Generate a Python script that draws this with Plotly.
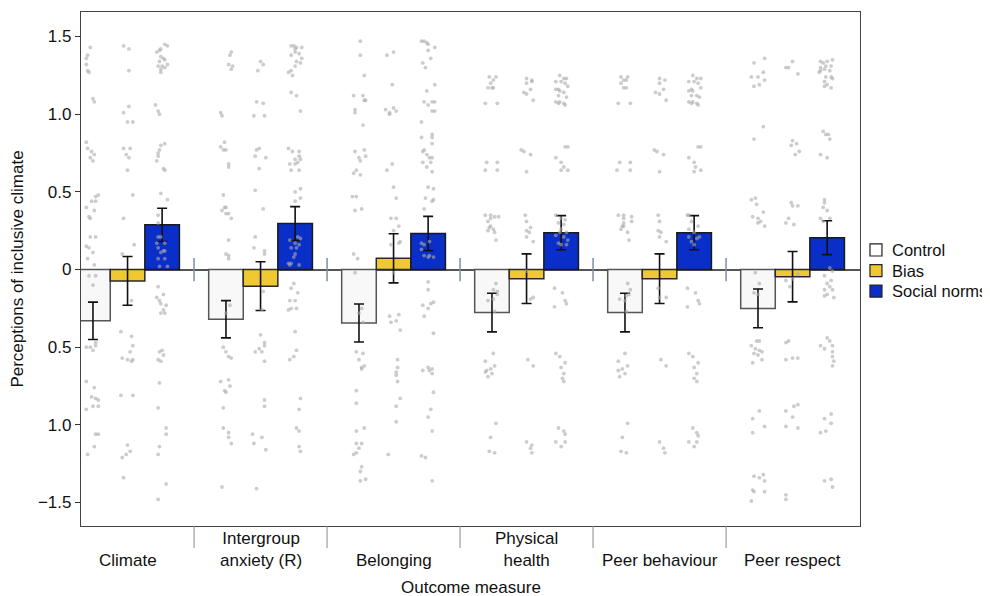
import plotly.graph_objects as go

categories = ["Climate", "Intergroup<br>anxiety (R)", "Belonging", "Physical<br>health",
              "Peer behaviour", "Peer respect"]
conditions = ["Control", "Bias", "Social norms"]

control_mean = [-0.33, -0.32, -0.344, -0.277, -0.277, -0.25]
control_ci = [0.12, 0.12, 0.122, 0.124, 0.124, 0.125]
bias_mean = [-0.073, -0.107, 0.072, -0.059, -0.059, -0.046]
bias_ci = [0.157, 0.157, 0.158, 0.16, 0.16, 0.162]
social_mean = [0.288, 0.296, 0.232, 0.237, 0.237, 0.205]
social_ci = [0.107, 0.109, 0.11, 0.11, 0.11, 0.109]

y_tickvals = [-1.5, -1.0, -0.5, 0, 0.5, 1.0, 1.5]
y_ticktext = ["\u22121.5", "1.0", "0.5", "0", "0.5", "1.0", "1.5"]

# individual participant scores: (jitter within bar, value), per category
control_dots = [
    [(-0.02,1.43),(-0.04,1.38),(-0.05,1.36),(-0.05,1.32),(-0.04,1.28),(-0.03,1.27),(0,1.10),(0.01,1.08),(-0.05,0.82),(-0.04,0.78),(-0.01,0.76),(0.01,0.74),(-0.02,0.72),(0,0.70),(0.02,0.47),(0.04,0.48),(-0.01,0.44),(0.02,0.44),(-0.05,0.40),(0.01,0.38),(-0.03,0.34),(-0.02,0.33),(-0.02,0.21),(0.02,0.21),(-0.05,0.15),(-0.03,0.14),(0,0.11),(-0.04,0.07),(0.01,0.03),(-0.03,-0.04),(0.02,-0.04),(0,-0.10),(0.02,-0.47),(-0.05,-0.50),(-0.02,-0.50),(0.02,-0.49),(0,-0.52),(-0.05,-0.72),(0.01,-0.76),(-0.01,-0.82),(0.02,-0.83),(0.04,-0.84),(0,-0.88),(0.04,-0.88),(-0.05,-0.90),(0.02,-1.06),(0.04,-1.06),(0.01,-1.14),(-0.04,-1.19)],
    [(0.04,1.40),(0.03,1.38),(0.02,1.32),(0.05,1.31),(0.04,1.29),(-0.04,1.01),(-0.03,0.99),(-0.01,0.82),(-0.04,0.79),(-0.02,0.77),(0,0.77),(0.02,0.68),(0.02,0.66),(-0.02,0.48),(-0.01,0.40),(-0.03,0.38),(0,0.40),(0,0.36),(0.02,0.36),(0.04,0.33),(0.02,0.19),(0,0.10),(0.02,0.09),(0.02,0.07),(0.03,-0.23),(0,-0.28),(-0.02,-0.50),(0,-0.53),(0.02,-0.56),(0.04,-0.57),(-0.04,-0.72),(0.02,-0.71),(-0.01,-0.78),(0.03,-0.75),(0,-0.79),(-0.02,-0.89),(-0.02,-1.02),(0.02,-1.05),(0.02,-1.08),(0.04,-1.12),(-0.03,-1.40)],
    [(0.01,1.47),(0.01,1.38),(0.04,1.25),(-0.04,1.12),(0.03,1.12),(0.04,1.09),(0.05,1.09),(-0.03,1.03),(-0.03,1.01),(0.03,0.93),(-0.03,0.76),(0.04,0.77),(0,0.72),(0.01,0.70),(0.05,0.73),(-0.02,0.64),(-0.04,0.62),(0.01,0.61),(-0.05,0.47),(-0.02,0.47),(-0.03,0.38),(0.02,0.39),(-0.04,0.10),(-0.01,0.07),(-0.03,-0.02),(0.02,-0.25),(0,-0.28),(0.03,-0.34),(-0.02,-0.53),(0.03,-0.54),(0,-0.58),(0.02,-0.63),(0.04,-0.62),(0.02,-0.64),(-0.02,-0.78),(-0.02,-0.86),(-0.02,-1.04),(0.04,-1.02),(-0.02,-1.12),(0.02,-1.12),(0,-1.15),(-0.02,-1.18),(-0.04,-1.19),(0.02,-1.27),(0.01,-1.30),(0.01,-1.36),(0.05,-1.35)],
    [(-0.02,1.24),(0.03,1.24),(0.01,1.22),(-0.01,1.20),(0.01,1.17),(0,1.17),(-0.03,1.17),(-0.05,1.07),(0.04,1.07),(-0.04,0.69),(0.04,0.69),(-0.05,0.64),(0.04,0.64),(-0.05,0.35),(-0.01,0.35),(0.02,0.34),(-0.01,0.33),(0.05,0.34),(-0.03,0.31),(-0.01,0.28),(0.01,0.26),(-0.02,0.27),(-0.03,0.25),(0.02,0.24),(0.03,0.19),(0.03,-0.09),(0.01,-0.13),(0.04,-0.14),(0.04,-0.16),(0.01,-0.19),(-0.03,-0.20),(0.02,-0.27),(0.01,-0.54),(-0.05,-0.59),(-0.01,-0.64),(0.02,-0.62),(-0.04,-0.65),(-0.05,-0.66),(0,-0.67),(-0.03,-0.69),(0.03,-0.99),(-0.01,-1.08),(-0.02,-1.17),(0.02,-1.18)],
    [(-0.03,1.24),(0.02,1.24),(-0.01,1.22),(0.01,1.22),(-0.03,1.20),(-0.01,1.17),(0.01,1.17),(-0.05,1.07),(0.04,1.07),(-0.04,0.69),(0.04,0.69),(-0.06,0.64),(0.04,0.64),(-0.05,0.35),(-0.01,0.35),(0.05,0.34),(-0.01,0.33),(-0.01,0.30),(0.05,0.31),(-0.02,0.28),(-0.03,0.26),(0.02,0.24),(-0.01,0.28),(0.03,0.19),(0.02,-0.09),(0.04,-0.13),(0.03,-0.16),(0.01,-0.17),(-0.04,-0.19),(0,-0.20),(0.01,-0.27),(0,-0.54),(-0.05,-0.59),(0.02,-0.62),(-0.02,-0.64),(-0.05,-0.65),(0,-0.67),(-0.04,-0.69),(0.02,-0.99),(-0.02,-1.08),(-0.03,-1.17),(0.01,-1.18)],
    [(-0.03,1.33),(0.05,1.36),(-0.05,1.24),(0,1.24),(0.04,1.27),(-0.03,1.18),(0.01,1.19),(0.05,1.22),(0.04,0.92),(-0.03,0.84),(-0.05,0.45),(-0.02,0.46),(-0.01,0.42),(0.04,0.37),(-0.04,0.34),(0,0.33),(0,0.30),(0.02,0.31),(0.05,0.28),(-0.02,-0.02),(0.01,-0.09),(0,-0.16),(-0.03,-0.15),(-0.01,-0.46),(0.01,-0.46),(-0.05,-0.49),(-0.02,-0.51),(0.01,-0.52),(-0.03,-0.54),(0,-0.55),(0.03,-0.53),(0.03,-0.58),(-0.04,-0.60),(0.01,-0.91),(-0.04,-0.96),(0.05,-1.01),(-0.04,-1.05),(-0.03,-1.33),(0.01,-1.34),(0.04,-1.32),(0.05,-1.36),(-0.04,-1.42),(-0.03,-1.43),(0.05,-1.43),(-0.05,-1.49)],
]
bias_dots = [
    [(-0.03,1.44),(0.01,1.42),(0.01,1.28),(0.01,1.05),(-0.03,1.01),(0,0.95),(0.04,0.95),(-0.03,0.78),(0.02,0.78),(-0.01,0.74),(0.01,0.72),(0,0.64),(0.04,0.48),(-0.03,0.33),(0.05,0.16),(-0.04,0.10),(0.03,-0.20),(-0.05,-0.40),(0.03,-0.43),(0.04,-0.49),(0.02,-0.53),(-0.04,-0.57),(0,-0.58),(0.04,-0.58),(0.03,-0.59),(-0.05,-0.81),(0.04,-0.81),(0,-1.13),(0.02,-1.17),(-0.01,-1.19),(-0.04,-1.21),(-0.03,-1.34)],
    [(0,1.34),(0.02,1.32),(-0.02,1.28),(-0.03,1.08),(0.02,1.07),(-0.05,0.99),(0.03,0.99),(-0.01,0.78),(-0.03,0.77),(-0.04,0.73),(0.04,0.72),(-0.01,0.65),(-0.04,0.51),(0.02,0.39),(-0.04,0.21),(-0.05,0.14),(0.03,0.12),(0.03,0.10),(0.02,-0.14),(0.01,-0.26),(0,-0.42),(0.03,-0.47),(0.03,-0.49),(-0.01,-0.51),(-0.04,-0.53),(0.01,-0.53),(0.03,-0.59),(0.03,-0.84),(0.03,-0.88),(-0.06,-1.06),(0.01,-1.08),(-0.05,-1.12),(0.04,-1.16),(-0.03,-1.41)],
    [(-0.05,1.38),(0,1.40),(-0.01,1.19),(-0.06,1.03),(-0.03,1.01),(0,1.04),(0.02,1.02),(-0.03,1.00),(-0.01,0.68),(-0.05,0.64),(0,0.53),(0.02,0.46),(-0.02,0.33),(0.02,0.33),(0.04,0.28),(0,0.25),(0.04,0.17),(0.05,0.18),(-0.02,0.16),(0,-0.02),(-0.03,-0.30),(0.04,-0.29),(-0.02,-0.34),(0.02,-0.33),(0.05,-0.39),(0.03,-0.58),(0.03,-0.63),(0.02,-0.66),(0.02,-0.68),(0.03,-0.72),(0.05,-0.83),(0.02,-0.88),(0.02,-0.98),(-0.04,-1.19)],
    [(0,1.23),(0.04,1.22),(0.04,1.21),(0,1.20),(0.03,1.16),(-0.02,1.14),(0,1.13),(0.05,1.09),(-0.04,0.77),(-0.02,0.76),(0.03,0.74),(0,0.63),(-0.01,0.35),(0,0.31),(0,0.25),(0.02,0.24),(0.03,0.27),(0,0.21),(0.05,0.18),(0,-0.01),(0.05,-0.18),(0.03,-0.19),(0.01,-0.58),(0.05,-0.62),(0,-1.11),(0.03,-1.15),(0.04,-1.18),(0.04,-1.13)],
    [(0,1.23),(0.04,1.22),(0,1.20),(0.03,1.16),(-0.03,1.14),(0,1.13),(0.05,1.09),(-0.04,0.77),(-0.02,0.76),(0.03,0.74),(0,0.63),(-0.01,0.35),(0,0.31),(-0.01,0.25),(0.01,0.24),(0,0.21),(0.05,0.18),(-0.01,-0.12),(0,-0.18),(0.05,-0.18),(0.01,-0.58),(0.05,-0.62),(0,-1.11),(0.03,-1.15),(0.04,-1.18)],
    [(0,1.34),(-0.05,1.30),(-0.03,1.30),(0.04,1.26),(0,0.83),(0.03,0.81),(-0.01,0.80),(0.05,0.76),(0.02,0.74),(-0.01,0.43),(0,0.41),(0.04,0.41),(-0.03,0.33),(-0.05,0.30),(0.01,0.29),(0.04,-0.03),(0,-0.06),(-0.05,-0.07),(-0.02,-0.11),(-0.03,-0.46),(-0.05,-0.47),(0,-0.57),(0.04,-0.57),(-0.05,-0.58),(0.01,-0.88),(0.04,-0.87),(-0.05,-0.91),(0,-0.95),(-0.05,-1.01),(0.04,-1.02),(-0.05,-1.45),(-0.05,-1.48)],
]
social_dots = [
    [(0.02,1.45),(0.04,1.44),(-0.01,1.42),(-0.02,1.41),(-0.04,1.40),(-0.01,1.37),(0.01,1.36),(0.02,1.35),(-0.02,1.34),(0.04,1.32),(0,1.31),(-0.03,1.31),(0.02,1.30),(-0.01,1.29),(-0.01,1.27),(-0.05,1.06),(-0.03,1.02),(-0.02,1.00),(0.02,0.81),(-0.01,0.80),(-0.02,0.77),(-0.03,0.75),(-0.03,0.73),(-0.04,0.70),(0.01,0.65),(0.02,0.64),(-0.01,0.49),(0.04,0.45),(-0.03,0.35),(-0.03,0.30),(-0.03,0.21),(-0.01,0.21),(-0.04,0.17),(0.02,0.17),(-0.03,0.14),(0.01,0.12),(0.02,0.12),(-0.01,0.11),(-0.03,0.07),(0.02,0.07),(-0.02,0.02),(0.04,0.02),(-0.03,-0.11),(0.01,-0.16),(-0.04,-0.18),(-0.02,-0.20),(-0.01,-0.22),(0.03,-0.23),(0.01,-0.26),(0.02,-0.28),(-0.01,-0.28),(0,-0.52),(-0.02,-0.53),(0.01,-0.55),(-0.03,-0.58),(-0.01,-0.59),(-0.02,-0.73),(-0.03,-0.89),(0.03,-1.02),(0.03,-1.06),(-0.02,-1.14),(-0.03,-1.19),(0.03,-1.38),(-0.03,-1.48)],
    [(-0.03,1.44),(-0.01,1.44),(0.01,1.43),(0.05,1.43),(0,1.42),(0,1.40),(0.03,1.39),(-0.03,1.38),(0.05,1.36),(0.01,1.34),(0.04,1.33),(0,1.31),(-0.03,1.28),(-0.05,1.27),(-0.02,1.25),(-0.03,1.14),(0.01,1.12),(0.04,1.02),(-0.05,0.78),(-0.02,0.76),(0.03,0.76),(0.03,0.73),(0,0.71),(0.04,0.71),(0.02,0.69),(-0.04,0.68),(0,0.68),(-0.03,0.64),(0.03,0.64),(0,0.50),(0.04,0.52),(0.04,0.46),(0,0.44),(0.02,0.21),(0.04,0.20),(-0.04,0.19),(0,0.17),(0.03,0.16),(-0.03,0.14),(0.01,0.14),(0,0.10),(-0.01,0.08),(-0.05,0.04),(-0.03,0.04),(0.03,0.03),(-0.04,0.03),(-0.01,-0.09),(-0.03,-0.12),(0.02,-0.15),(-0.04,-0.20),(0,-0.20),(-0.03,-0.25),(-0.05,-0.26),(0.01,-0.25),(0,-0.40),(0.01,-0.52),(-0.01,-0.56),(-0.04,-0.58),(0.04,-0.83),(0.03,-0.90),(0.01,-1.02),(0.03,-1.04),(0.03,-1.14),(0.04,-1.17)],
    [(-0.05,1.47),(-0.03,1.47),(-0.01,1.46),(0,1.45),(0.05,1.43),(0,1.41),(0.02,1.36),(-0.04,1.33),(-0.02,1.30),(0.05,1.19),(-0.01,1.15),(-0.03,1.08),(0,1.06),(0.03,1.08),(0.05,1.08),(0.03,1.02),(0.05,1.02),(-0.05,0.95),(0.03,0.87),(0.03,0.85),(-0.05,0.85),(0.03,0.81),(-0.03,0.77),(-0.04,0.76),(-0.01,0.74),(0.01,0.72),(0.03,0.72),(-0.04,0.69),(-0.01,0.66),(0.02,0.69),(0.03,0.63),(0,0.53),(0.04,0.52),(-0.02,0.46),(0.04,0.45),(0.03,0.44),(-0.03,0.39),(-0.05,0.17),(-0.03,0.16),(0.01,0.18),(-0.05,0.13),(0.01,0.09),(-0.03,0.09),(0,0.08),(0.04,0.08),(0,-0.08),(0,-0.13),(-0.04,-0.23),(0,-0.25),(0.02,-0.22),(0.04,-0.21),(-0.03,-0.30),(0.04,-0.41),(0,-0.63),(-0.04,-0.65),(0.01,-0.65),(0.03,-0.67),(0.03,-0.64),(0.04,-0.79),(0.02,-0.90),(0,-0.95),(0.03,-1.04),(-0.05,-1.20),(-0.02,-1.21),(0.03,-1.36)],
    [(-0.01,1.25),(0.02,1.23),(0.04,1.23),(-0.04,1.21),(0,1.21),(0.03,1.20),(0.05,1.18),(-0.02,1.16),(-0.04,1.16),(-0.01,1.15),(0.02,1.14),(-0.02,1.12),(0.04,1.11),(-0.04,1.08),(-0.01,1.08),(0.02,1.07),(-0.02,1.07),(0.03,1.06),(0.03,0.79),(0.05,0.79),(-0.04,0.72),(0,0.69),(0.02,0.66),(0,0.64),(0.05,0.64),(-0.04,0.35),(0,0.33),(0.03,0.32),(-0.02,0.30),(0.02,0.29),(0,0.26),(0.04,0.24),(-0.01,0.24),(-0.04,0.22),(0.02,0.21),(0.05,0.19),(-0.02,0.17),(0,0.16),(0.04,0.16),(-0.05,-0.12),(0.01,-0.15),(0.03,-0.20),(0.04,-0.22),(-0.05,-0.24),(-0.04,-0.54),(-0.01,-0.56),(0.03,-0.60),(0,-0.63),(0.02,-0.67),(0.01,-0.70),(0.02,-0.72),(-0.02,-1.02),(0.02,-1.04),(0.03,-1.06),(-0.04,-1.11),(0,-1.14),(0.03,-1.11)],
    [(-0.01,1.25),(0.02,1.23),(0.05,1.23),(-0.04,1.21),(0,1.21),(0.03,1.20),(0.05,1.17),(-0.02,1.16),(-0.04,1.15),(-0.01,1.15),(0.02,1.12),(-0.02,1.12),(0.04,1.11),(-0.04,1.08),(-0.01,1.08),(0.02,1.07),(-0.02,1.07),(0.03,1.06),(0.03,0.79),(0.05,0.79),(-0.04,0.72),(0,0.69),(0.01,0.66),(0,0.63),(0.05,0.64),(-0.05,0.35),(-0.04,0.35),(-0.02,0.31),(0.03,0.28),(-0.04,0.26),(0,0.24),(0.04,0.21),(-0.04,0.21),(0.02,0.20),(-0.02,0.18),(0,0.16),(-0.05,-0.12),(0.01,-0.15),(0.03,-0.20),(0.04,-0.22),(-0.05,-0.24),(-0.04,-0.54),(-0.01,-0.56),(0.03,-0.60),(0,-0.63),(0.02,-0.67),(0,-0.70),(0.02,-0.72),(-0.01,-1.02),(0.02,-1.05),(0.03,-1.07),(-0.04,-1.11),(0,-1.14),(0.02,-1.11)],
    [(-0.05,1.34),(-0.03,1.33),(0,1.34),(0.04,1.35),(-0.01,1.31),(-0.05,1.30),(0.03,1.31),(-0.05,1.28),(-0.02,1.29),(0.02,1.28),(-0.06,1.27),(0.03,1.24),(-0.01,1.24),(0.04,1.23),(-0.02,1.21),(0,1.19),(0.03,1.17),(-0.02,1.18),(-0.03,0.89),(-0.01,0.87),(0.01,0.87),(0.02,0.84),(-0.05,0.74),(0,0.72),(-0.02,0.45),(-0.02,0.43),(-0.03,0.40),(0,0.38),(-0.05,0.33),(-0.03,0.31),(0.02,0.33),(0.02,0.01),(0.04,-0.01),(-0.02,-0.04),(0.03,-0.07),(0,-0.09),(0.02,-0.11),(-0.02,-0.13),(0.04,-0.13),(0,-0.16),(-0.02,-0.17),(0.05,-0.18),(0,-0.44),(0.02,-0.46),(-0.05,-0.49),(0.04,-0.49),(-0.02,-0.51),(0.04,-0.53),(0.04,-0.56),(0.05,-0.59),(0.04,-0.62),(0.03,-0.93),(-0.02,-0.96),(0.03,-0.99),(-0.05,-1.05),(-0.01,-1.04),(-0.02,-1.36),(0.03,-1.35),(0.04,-1.40)],
]

# ---- styling / layout ----
FONT = "Liberation Sans, Arial, Helvetica, sans-serif"
FS = 17
BAR_W = 0.26
offsets = [-BAR_W, 0.0, BAR_W]
fills = ["#f8f8f8", "#f0c832", "#0a2fc9"]
outlines = ["#555555", "#2a2a2a", "#1a1a1a"]
means = [control_mean, bias_mean, social_mean]
cis = [control_ci, bias_ci, social_ci]
dot_sets = [control_dots, bias_dots, social_dots]
idx = list(range(len(categories)))

fig = go.Figure()
for k, cond in enumerate(conditions):
    fig.add_trace(go.Bar(
        x=[i + offsets[k] for i in idx], y=means[k], width=BAR_W, name=cond,
        showlegend=False,
        marker=dict(color=fills[k], line=dict(color=outlines[k], width=1.5)),
        error_y=dict(type="data", array=cis[k], visible=True, color="#111111",
                     thickness=1.6, width=5),
    ))

for k in range(3):
    xs, ys = [], []
    for i in idx:
        for j, v in dot_sets[k][i]:
            xs.append(i + offsets[k] + j)
            ys.append(v)
    fig.add_trace(go.Scatter(
        x=xs, y=ys, mode="markers", showlegend=False, hoverinfo="skip",
        marker=dict(size=3.8, color="rgba(170,170,170,0.6)", line=dict(width=0)),
    ))

shapes = []
for i in idx[:-1]:
    shapes.append(dict(type="line", xref="x", yref="paper", x0=i + 0.5, x1=i + 0.5,
                       y0=0, y1=-0.043, line=dict(color="#8a8a8a", width=1)))
    shapes.append(dict(type="line", xref="x", yref="y", x0=i + 0.5, x1=i + 0.5,
                       y0=-0.075, y1=0.075, line=dict(color="#7d8ca8", width=1.5)))

annotations = []
for i, cat in zip(idx, categories):
    annotations.append(dict(x=i, xref="x", y=-0.089, yref="paper", text=cat,
                            showarrow=False, yanchor="bottom", xanchor="center",
                            font=dict(size=FS, color="#111111", family=FONT)))
annotations.append(dict(x=0.5, xref="paper", y=-0.1206, yref="paper",
                        text="Outcome measure", showarrow=False, yanchor="middle",
                        borderpad=0,
                        font=dict(size=FS, color="#111111", family=FONT)))

# manual legend (tighter row spacing than plotly's built-in legend)
leg_y = [0.537, 0.497, 0.457]
for k, cond in enumerate(conditions):
    shapes.append(dict(type="rect", xref="paper", yref="paper",
                       x0=1.0128, x1=1.0282, y0=leg_y[k] - 0.0117, y1=leg_y[k] + 0.0117,
                       fillcolor=fills[k] if k else "white",
                       line=dict(color="#222222", width=1.2)))
    annotations.append(dict(x=1.039, xref="paper", y=leg_y[k], yref="paper",
                            text=cond, showarrow=False, xanchor="left", yanchor="middle",
                            font=dict(size=16.5, color="#111111", family=FONT)))

# the page body adds an 8 px offset; the figure is sized so the plot lands
# at the same place as in the reference
fig.update_layout(
    width=982, height=588,
    margin=dict(l=73, r=130, t=4, b=70, autoexpand=False),
    paper_bgcolor="white", plot_bgcolor="white",
    barmode="overlay",
    showlegend=False,
    font=dict(family=FONT, size=FS, color="#111111"),
    shapes=shapes, annotations=annotations,
    xaxis=dict(range=[-0.35, 5.507], showticklabels=False, ticks="",
               showgrid=False, zeroline=False, showline=True, mirror=True,
               linecolor="#444444", linewidth=1.2, automargin=False),
    yaxis=dict(range=[-1.651, 1.658], tickvals=y_tickvals, ticktext=y_ticktext,
               ticks="outside", ticklen=5, tickcolor="#333333", showgrid=False,
               zeroline=True, zerolinecolor="#555555", zerolinewidth=1.5,
               showline=True, mirror=True, linecolor="#444444", linewidth=1.2,
               automargin=False,
               tickfont=dict(size=FS, family=FONT),
               title=dict(text="Perceptions of inclusive climate",
                          font=dict(size=FS, family=FONT), standoff=10)),
)

fig.write_html("out.html")
